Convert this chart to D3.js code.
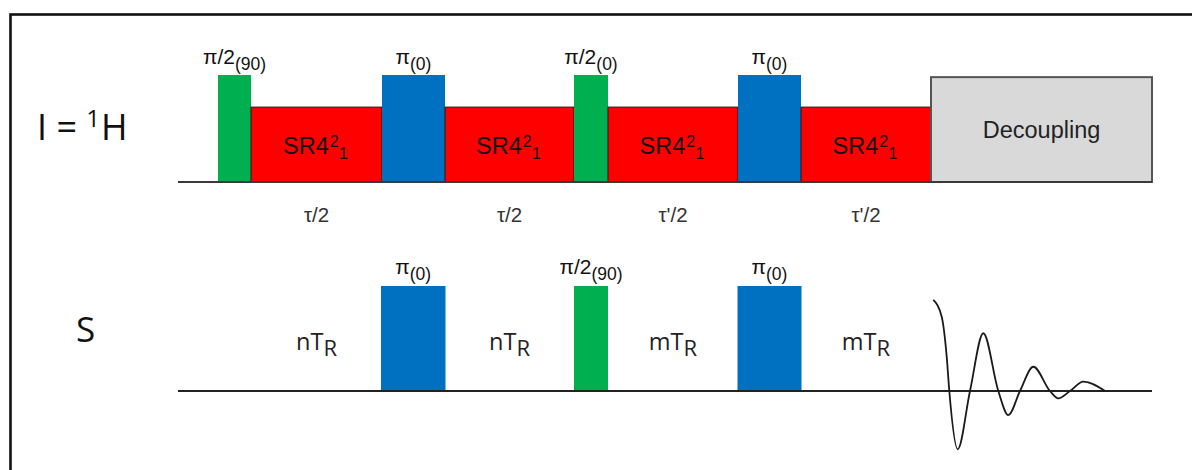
<!DOCTYPE html>
<html>
<head>
<meta charset="utf-8">
<script src="https://cdn.jsdelivr.net/npm/d3@7/dist/d3.min.js"></script>
<style>
  html, body { margin: 0; padding: 0; background: #fff; }
  svg { display: block; }
</style>
</head>
<body>
<svg id="chart" width="1192" height="470"></svg>
<script>
// ---- Data (time in diagram units, amplitude in % of a hard pulse) ----
const channels = ["I = 1H", "S"];

// I (1H) channel blocks: [start, end, amplitude, kind]
const hStarts = [40, 73, 204, 267, 396, 430, 560, 623, 753];
const hEnds   = [73, 204, 267, 396, 430, 560, 623, 753, 974];
const hAmps   = [100, 70, 100, 70, 100, 70, 100, 70, 98];
const hKinds  = ["p90", "sr4", "p180", "sr4", "p90", "sr4", "p180", "sr4", "dec"];

// S channel pulses
const sStarts = [203, 396, 559.5];
const sEnds   = [267.5, 430, 623.5];
const sAmps   = [100, 100, 100];
const sKinds  = ["p180", "p90", "p180"];

// Pulse labels: [main, subscript]
const hPulseMain = ["π/2", "π", "π/2", "π"];
const hPulseSub  = ["(90)", "(0)", "(0)", "(0)"];
const sPulseMain = ["π", "π/2", "π"];
const sPulseSub  = ["(0)", "(90)", "(0)"];

// Delay labels under the I channel
const tauLabels = ["τ/2", "τ/2", "τ'/2", "τ'/2"];
// Delay labels on the S channel
const trMain = ["nT", "nT", "mT", "mT"];
const trSub  = ["R", "R", "R", "R"];

// FID: time and amplitude
const fidT = [755.3, 763.7, 768.7, 771.3, 779.7, 792, 805.3, 820.3, 830.3, 842, 855.3, 872, 880.3, 892, 905.3, 927];
const fidA = [86.7, 70.8, 32.7, 0, -55.5, 0, 55, 0, -22.9, 0, 23.1, 0, -7, 0, 8.9, 0];

// ---- Scales ----
const x = d3.scaleLinear().domain([0, 974]).range([178, 1152]);
const yH = d3.scaleLinear().domain([0, 100]).range([182, 75]);
const yS = d3.scaleLinear().domain([0, 100]).range([391, 286]);

const colors = { p90: "#00b050", p180: "#0070c0", sr4: "#ff0000", dec: "#d9d9d9" };

const svg = d3.select("#chart");

// frame
svg.append("rect").attr("x", 10.5).attr("y", 14.5).attr("width", 1250).attr("height", 600)
  .attr("fill", "none").attr("stroke", "#111").attr("stroke-width", 2.6);

const sansA = "'Liberation Sans', Arial, sans-serif";
const sansC = "'Open Sans', 'Noto Sans', sans-serif";

// ---- I channel ----
const hData = hStarts.map((s, i) => ({ s, e: hEnds[i], a: hAmps[i], k: hKinds[i] }));
const gH = svg.append("g");
gH.selectAll("rect").data(hData).join("rect")
  .attr("x", d => x(d.s)).attr("width", d => x(d.e) - x(d.s))
  .attr("y", d => yH(d.a)).attr("height", d => yH(0) - yH(d.a))
  .attr("fill", d => colors[d.k])
  .attr("stroke", d => d.k === "sr4" ? "#1a1a1a" : d.k === "dec" ? "#555" : "none")
  .attr("stroke-width", d => d.k === "dec" ? 2 : 1);

// baseline I
svg.append("line").attr("x1", x(0)).attr("x2", x(974)).attr("y1", yH(0)).attr("y2", yH(0))
  .attr("stroke", "#3a3a3a").attr("stroke-width", 2);

// SR4 labels
const sr = hData.filter(d => d.k === "sr4");
sr.forEach(d => {
  const t = svg.append("text").attr("x", x((d.s + d.e) / 2) - 1).attr("y", 154)
    .attr("text-anchor", "middle").attr("font-family", sansA).attr("font-size", 23.5).attr("fill", "#111");
  t.append("tspan").text("SR4");
  t.append("tspan").attr("font-size", 16).attr("dy", -7.5).attr("dx", 1).text("2");
  t.append("tspan").attr("font-size", 16).attr("dy", 12.5).attr("dx", 0.5).text("1");
});

// Decoupling label
const dec = hData.find(d => d.k === "dec");
svg.append("text").attr("x", x((dec.s + dec.e) / 2)).attr("y", 138)
  .attr("text-anchor", "middle").attr("font-family", sansA).attr("font-size", 23.5)
  .attr("fill", "#222").text("Decoupling");

// pulse labels I
const hPulses = hData.filter(d => d.k === "p90" || d.k === "p180");
hPulses.forEach((d, i) => {
  const t = svg.append("text").attr("x", x((d.s + d.e) / 2)).attr("y", yH(d.a) - 11)
    .attr("text-anchor", "middle").attr("font-family", sansA).attr("font-size", 21).attr("fill", "#111");
  t.append("tspan").text(hPulseMain[i]);
  t.append("tspan").attr("font-size", 17.5).attr("dy", 6).text(hPulseSub[i]);
});

// tau labels
sr.forEach((d, i) => {
  svg.append("text").attr("x", x((d.s + d.e) / 2)).attr("y", 222)
    .attr("text-anchor", "middle").attr("font-family", sansA).attr("font-size", 20.5)
    .attr("fill", "#333").text(tauLabels[i]);
});

// ---- S channel ----
const sData = sStarts.map((s, i) => ({ s, e: sEnds[i], a: sAmps[i], k: sKinds[i] }));
svg.append("g").selectAll("rect").data(sData).join("rect")
  .attr("x", d => x(d.s)).attr("width", d => x(d.e) - x(d.s))
  .attr("y", d => yS(d.a)).attr("height", d => yS(0) - yS(d.a))
  .attr("fill", d => colors[d.k]);

svg.append("line").attr("x1", x(0)).attr("x2", x(974)).attr("y1", yS(0)).attr("y2", yS(0))
  .attr("stroke", "#222").attr("stroke-width", 2);

sData.forEach((d, i) => {
  const t = svg.append("text").attr("x", x((d.s + d.e) / 2)).attr("y", yS(d.a) - 12)
    .attr("text-anchor", "middle").attr("font-family", sansA).attr("font-size", 21).attr("fill", "#111");
  t.append("tspan").text(sPulseMain[i]);
  t.append("tspan").attr("font-size", 17.5).attr("dy", 6).text(sPulseSub[i]);
});

// nTR / mTR labels centred in the S delays (same windows as SR4 blocks)
sr.forEach((d, i) => {
  const t = svg.append("text").attr("x", x((d.s + d.e) / 2)).attr("y", 350)
    .attr("text-anchor", "middle").attr("font-family", sansC).attr("font-size", 23.5).attr("fill", "#222");
  t.append("tspan").text(trMain[i]);
  t.append("tspan").attr("font-size", 22).attr("dy", 6).text(trSub[i]);
});

// FID
const fid = fidT.map((t, i) => [t, fidA[i]]);
svg.append("path").datum(fid)
  .attr("d", d3.line().x(d => x(d[0])).y(d => yS(d[1])).curve(d3.curveMonotoneX))
  .attr("fill", "none").attr("stroke", "#1a1a1a").attr("stroke-width", 1.8);

// channel labels
const lab1 = svg.append("text").attr("x", 37).attr("y", 140).attr("font-family", sansC)
  .attr("font-size", 36).attr("fill", "#111");
lab1.append("tspan").text("I = ");
lab1.append("tspan").attr("font-size", 24).attr("dy", -13).text("1");
lab1.append("tspan").attr("dy", 13).attr("dx", 1).text("H");

svg.append("text").attr("x", 76).attr("y", 342).attr("font-family", sansC)
  .attr("font-size", 35).attr("fill", "#111").text(channels[1]);
</script>
</body>
</html>
